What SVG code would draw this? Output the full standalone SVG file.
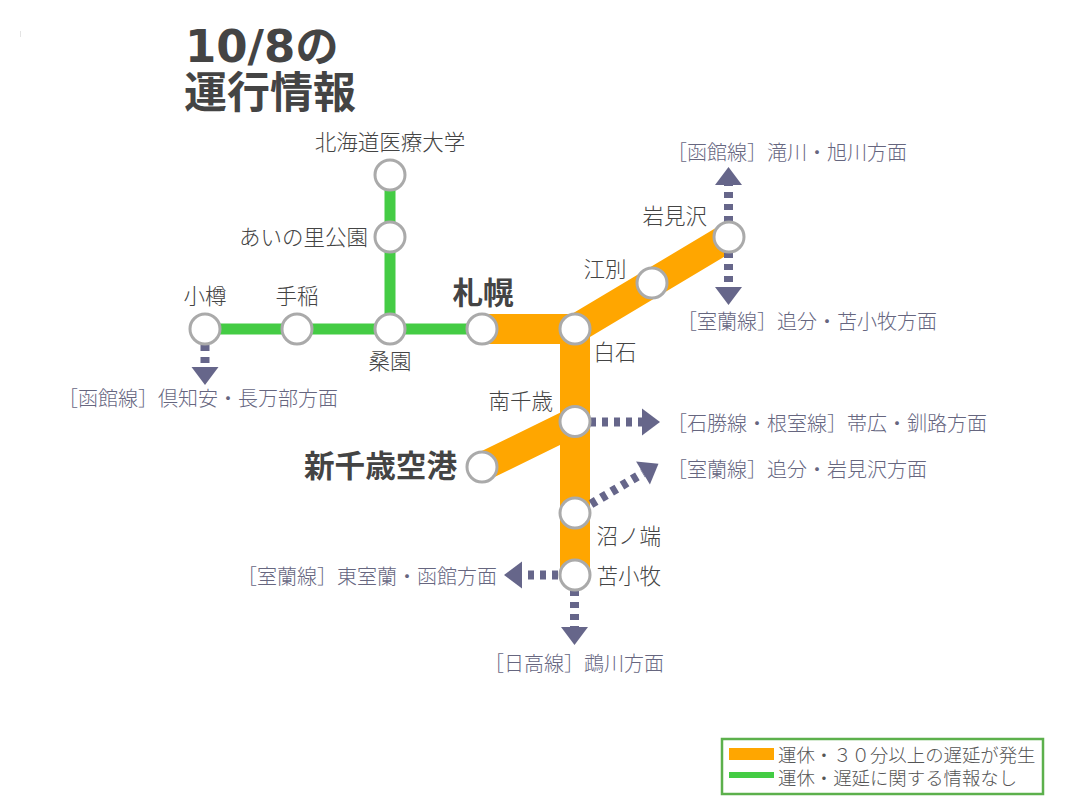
<svg xmlns="http://www.w3.org/2000/svg" width="1072" height="806" viewBox="0 0 1072 806">
<style>
text{font-family:"Noto Sans CJK JP","Noto Sans CJK SC",sans-serif;font-weight:300}
.st{font-size:21.500px;fill:#444}
.big{font-size:30.600px;font-weight:700;fill:#444}
.title{font-size:43px;font-weight:700;fill:#444}
.num{font-family:"DejaVu Sans",sans-serif;font-size:45px}
.dir{font-size:20px;fill:#66667f}
.lg{font-size:18.400px;fill:#555}
.stn{fill:#fff;stroke:#aaa;stroke-width:3}
.o{stroke:#ffa600;stroke-width:30;fill:none}
.d{stroke:#ffa600;stroke-width:29;fill:none}
.g{stroke:#44cc44;stroke-width:11;fill:none}
.a{stroke:#66668a;stroke-width:9;stroke-dasharray:6 6;fill:none;marker-end:url(#head)}
</style>
<defs>
<marker id="head" markerUnits="userSpaceOnUse" markerWidth="20" markerHeight="28" refX="0" refY="14" orient="auto" overflow="visible"><polygon points="0,0.5 18,14 0,27.500" fill="#66668a"/></marker>
</defs>
<rect width="1072" height="806" fill="#fff"/>
<rect x="20" y="31" width="1" height="6" fill="#e4e4e4"/>
<g id="title"><text class="title" x="185" y="62"><tspan class="num">10/8</tspan>の</text><text class="title" x="184" y="108">運行情報</text></g>
<g id="connectors">
<path class="g" d="M390 175V329M205 329H482"/>
<path class="o" d="M482 329H575M575 329V575"/>
<path class="d" d="M575 329L729 237M575 421.500L482 467"/>
<path class="a" d="M728.500 222V185"/>
<path class="a" d="M728.500 252V287"/>
<path class="a" d="M205 345V367"/>
<path class="a" d="M590 422H642"/>
<path class="a" d="M591 504L643 473"/>
<path class="a" d="M558 575H522"/>
<path class="a" d="M574.500 590V627"/>
</g>
<g id="n-hokkaido-iryo"><circle class="stn" cx="390" cy="175" r="15"/><text class="st" x="390" y="150" text-anchor="middle">北海道医療大学</text></g>
<g id="n-ainosato"><circle class="stn" cx="390" cy="237" r="15"/><text class="st" x="368" y="245" text-anchor="end">あいの里公園</text></g>
<g id="n-otaru"><circle class="stn" cx="205" cy="329" r="15"/><text class="st" x="205" y="304" text-anchor="middle">小樽</text></g>
<g id="n-teine"><circle class="stn" cx="297" cy="329" r="15"/><text class="st" x="297" y="304" text-anchor="middle">手稲</text></g>
<g id="n-soen"><circle class="stn" cx="390" cy="329" r="15"/><text class="st" x="390" y="369" text-anchor="middle">桑園</text></g>
<g id="n-sapporo"><circle class="stn" cx="482" cy="329" r="15"/><text class="big" x="483" y="304" text-anchor="middle">札幌</text></g>
<g id="n-shiroishi"><circle class="stn" cx="575" cy="329" r="15"/><text class="st" x="593.500" y="360">白石</text></g>
<g id="n-ebetsu"><circle class="stn" cx="652" cy="283" r="15"/><text class="st" x="583.500" y="277">江別</text></g>
<g id="n-iwamizawa"><circle class="stn" cx="729" cy="237" r="15"/><text class="st" x="642.500" y="224">岩見沢</text></g>
<g id="n-minami-chitose"><circle class="stn" cx="575" cy="421.500" r="15"/><text class="st" x="488.500" y="409">南千歳</text></g>
<g id="n-shin-chitose"><circle class="stn" cx="482" cy="467" r="15"/><text class="big" x="457" y="477" text-anchor="end">新千歳空港</text></g>
<g id="n-numanohata"><circle class="stn" cx="575" cy="513" r="15"/><text class="st" x="596.500" y="544">沼ノ端</text></g>
<g id="n-tomakomai"><circle class="stn" cx="575" cy="575" r="15"/><text class="st" x="596.500" y="584">苫小牧</text></g>
<g id="directions">
<text class="dir" x="667" y="160">［函館線］滝川・旭川方面</text>
<text class="dir" x="677" y="329">［室蘭線］追分・苫小牧方面</text>
<text class="dir" x="58" y="406">［函館線］倶知安・長万部方面</text>
<text class="dir" x="667" y="431">［石勝線・根室線］帯広・釧路方面</text>
<text class="dir" x="667" y="477">［室蘭線］追分・岩見沢方面</text>
<text class="dir" x="237" y="584">［室蘭線］東室蘭・函館方面</text>
<text class="dir" x="484" y="671">［日高線］鵡川方面</text>
</g>
<g id="legend">
<rect x="722" y="739" width="321" height="55" fill="#fff" stroke="#5cb04c" stroke-width="2.500"/>
<rect x="729" y="748" width="45" height="12" fill="#ffa600"/>
<rect x="729" y="772" width="45" height="6" fill="#44cc44"/>
<text class="lg" x="778" y="762">運休・３０分以上の遅延が発生</text>
<text class="lg" x="778" y="785">運休・遅延に関する情報なし</text>
</g>
</svg>
